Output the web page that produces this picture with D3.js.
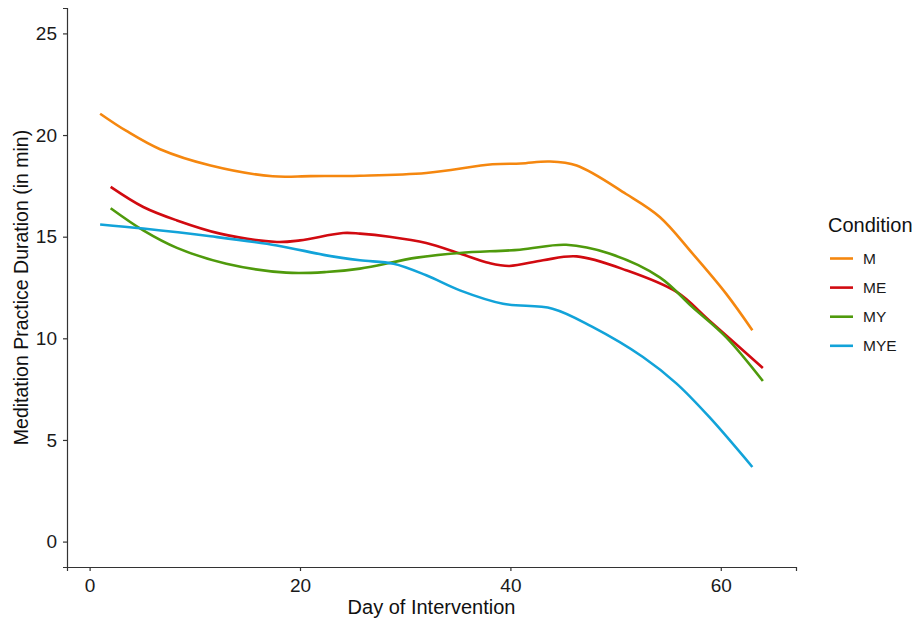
<!DOCTYPE html>
<html>
<head>
<meta charset="utf-8">
<script src="https://cdn.jsdelivr.net/npm/d3@7"></script>
<style>
  body { margin: 0; background: #fff; }
  text { font-family: "Liberation Sans", Arial, sans-serif; }
</style>
</head>
<body>
<svg width="915" height="623"></svg>
<script>
// values, [day, minutes]
var seriesM = [[1, 21.05], [3.5, 20.2], [6.7, 19.3], [11.5, 18.5], [17.4, 17.97], [21, 17.98], [25.7, 18.0], [32, 18.13], [38.3, 18.56], [41, 18.6], [43.7, 18.7], [46.3, 18.5], [51, 17.1], [54.2, 15.97], [57.3, 14.18], [60.5, 12.2], [63, 10.4]];
var seriesME = [[2, 17.45], [5.1, 16.46], [8.3, 15.8], [12.4, 15.15], [17.8, 14.74], [20, 14.82], [24.1, 15.18], [25.7, 15.15], [28.5, 15.0], [32, 14.69], [35.2, 14.17], [38, 13.7], [39.9, 13.56], [43.1, 13.84], [46.3, 14.03], [51, 13.35], [55.8, 12.28], [58.9, 10.88], [64, 8.54]];
var seriesMY = [[2, 16.4], [5.1, 15.31], [8.3, 14.45], [13, 13.67], [18.7, 13.23], [22.5, 13.26], [25.7, 13.43], [31.1, 13.97], [35.2, 14.2], [40.9, 14.36], [45.3, 14.6], [49.4, 14.17], [54.2, 13.0], [57.3, 11.54], [60.5, 10.06], [64, 7.9]];
var seriesMYE = [[1, 15.6], [5.1, 15.4], [11.5, 15.02], [17.8, 14.57], [22.5, 14.08], [25.7, 13.84], [28.9, 13.67], [32, 13.1], [35.2, 12.36], [39.3, 11.7], [44, 11.46], [47.8, 10.56], [52.6, 9.08], [55.8, 7.77], [58.9, 6.13], [63, 3.67]];

var conditions = ["M", "ME", "MY", "MYE"];
var colors = ["#f5870f", "#d10a10", "#4f9a0c", "#12a3d9"];
var allSeries = [seriesM, seriesME, seriesMY, seriesMYE];
var xTicks = [0, 20, 40, 60];
var yTicks = [0, 5, 10, 15, 20, 25];

var svg = d3.select("svg");
var pLeft = 67, pRight = 796, pTop = 8, pBottom = 567;

var x = d3.scaleLinear().domain([-2.15, 67.15]).range([pLeft, pRight]);
var y = d3.scaleLinear().domain([-1.25, 26.25]).range([pBottom, pTop]);

var line = d3.line()
    .x(d => x(d[0]))
    .y(d => y(d[1]))
    .curve(d3.curveCatmullRom.alpha(0.5));

svg.selectAll("path.curve").data(allSeries)
    .enter()
    .append("path")
    .attr("class", "curve")
    .attr("fill", "none")
    .attr("stroke", (d, i) => colors[i])
    .attr("stroke-width", 2.6)
    .attr("d", line);

//坐标轴
var xAxis = svg.append("g")
    .attr("transform", `translate(0, ${pBottom})`)
    .call(d3.axisBottom(x).tickValues(xTicks).tickSizeOuter(0).tickSize(4).tickPadding(8));
var yAxis = svg.append("g")
    .attr("transform", `translate(${pLeft}, 0)`)
    .call(d3.axisLeft(y).tickValues(yTicks).tickSizeOuter(0).tickSize(4).tickPadding(6));

[xAxis, yAxis].forEach(a => {
    a.select(".domain").attr("stroke", "#333").attr("stroke-width", 1.2);
    a.selectAll(".tick line").attr("stroke", "#333").attr("stroke-width", 1.2);
    a.selectAll(".tick text")
        .attr("fill", "#1a1a1a")
        .style("font-size", "19px")
        .style("font-family", "'Liberation Sans', Arial, sans-serif");
});

svg.append("text")
    .attr("x", (pLeft + pRight) / 2)
    .attr("y", 614)
    .attr("text-anchor", "middle")
    .style("font-size", "20px")
    .attr("fill", "#111")
    .text("Day of Intervention");

svg.append("text")
    .attr("transform", `translate(28, ${(pTop + pBottom) / 2}) rotate(-90)`)
    .attr("text-anchor", "middle")
    .style("font-size", "19.5px")
    .attr("fill", "#111")
    .text("Meditation Practice Duration (in min)");

//图例
var legend = svg.append("g").attr("transform", "translate(828, 0)");
legend.append("text")
    .attr("x", 0)
    .attr("y", 232)
    .style("font-size", "20px")
    .attr("fill", "#111")
    .text("Condition");

var rows = legend.selectAll("g.row").data(conditions)
    .enter()
    .append("g")
    .attr("class", "row")
    .attr("transform", (d, i) => `translate(0, ${258.5 + i * 29.1})`);
rows.append("line")
    .attr("x1", 2).attr("x2", 25)
    .attr("stroke", (d, i) => colors[i])
    .attr("stroke-width", 2.6);
rows.append("text")
    .attr("x", 35)
    .attr("dy", "0.36em")
    .style("font-size", "15.5px")
    .attr("fill", "#1a1a1a")
    .text(d => d);
</script>
</body>
</html>
